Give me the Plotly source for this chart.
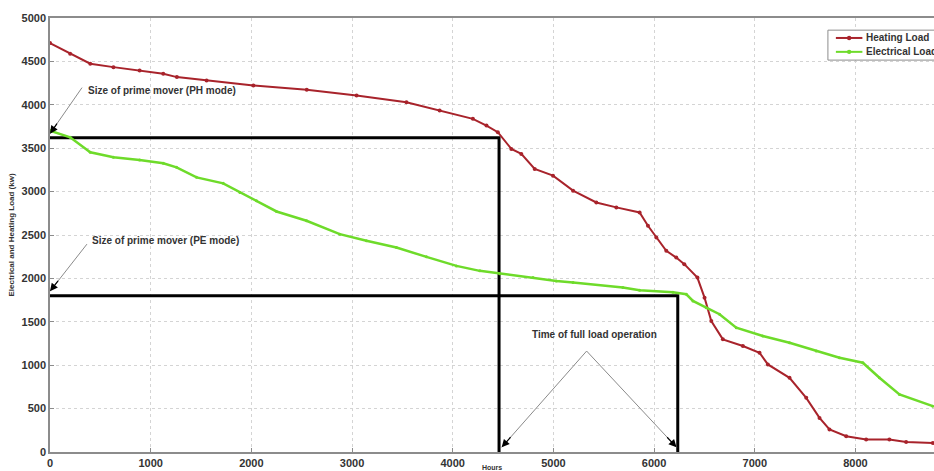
import plotly.graph_objects as go

# ---- data ----
hours_heat = [0, 200, 400, 630, 890, 1125, 1260, 1555, 2020, 2550, 3045, 3540, 3870, 4200,
              4335, 4448, 4582, 4681, 4814, 4996, 5195, 5426, 5625, 5856, 5939, 6022, 6121,
              6220, 6300, 6430, 6501, 6568, 6683, 6882, 7047, 7130, 7345, 7511, 7643, 7742,
              7908, 8106, 8337, 8503, 8768]
heating_load = [4711, 4589, 4473, 4434, 4396, 4358, 4319, 4281, 4223, 4173, 4108, 4030, 3934,
                3838, 3761, 3684, 3492, 3434, 3261, 3184, 3011, 2875, 2818, 2760, 2606, 2471,
                2318, 2240, 2164, 2009, 1778, 1509, 1298, 1221, 1143, 1009, 855, 624, 393, 259,
                181, 143, 143, 116, 104]

hours_elec = [0, 200, 400, 630, 890, 1125, 1257, 1456, 1720, 1886, 2051, 2250, 2548, 2878,
              3143, 3441, 3739, 4037, 4268, 4467, 4797, 5029, 5195, 5690, 5856, 6187, 6320,
              6386, 6518, 6650, 6816, 7080, 7345, 7610, 7841, 8073, 8238, 8437, 8768]
electrical_load = [3703, 3626, 3453, 3395, 3365, 3326, 3280, 3164, 3095, 2991, 2895, 2771,
                   2664, 2510, 2433, 2356, 2248, 2144, 2087, 2055, 2009, 1971, 1952, 1894,
                   1864, 1840, 1817, 1740, 1663, 1587, 1432, 1336, 1259, 1163, 1085, 1028,
                   855, 663, 528]

series_names = ["Heating Load", "Electrical Load"]

ph_size = 3620        # size of prime mover, PH mode (kW)
pe_size = 1800        # size of prime mover, PE mode (kW)
ph_full_hours = 4460  # hours of full-load operation, PH mode
pe_full_hours = 6235  # hours of full-load operation, PE mode

x_ticks = [0, 1000, 2000, 3000, 4000, 5000, 6000, 7000, 8000]
y_ticks = [0, 500, 1000, 1500, 2000, 2500, 3000, 3500, 4000, 4500, 5000]

# annotation anchor points (data coords)
ph_label = (357, 4165)
ph_arrow_tail = (318, 4198)
ph_arrow_head = (0, 3667)
pe_label = (397, 2433)
pe_arrow_tail = (367, 2395)
pe_arrow_head = (0, 1852)
full_label = (5410, 1359)
full_apex = (5330, 1163)
full_heads = [(4486, 54), (6223, 54)]

RED = "#A8232B"
GREEN = "#6EDB2A"
FONT = "Liberation Sans, Arial, sans-serif"

fig = go.Figure()

# black guide lines
fig.add_trace(go.Scatter(x=[0, ph_full_hours, ph_full_hours], y=[ph_size, ph_size, 0],
                         mode="lines", line=dict(color="black", width=3),
                         showlegend=False, hoverinfo="skip"))
fig.add_trace(go.Scatter(x=[0, pe_full_hours, pe_full_hours], y=[pe_size, pe_size, 0],
                         mode="lines", line=dict(color="black", width=3),
                         showlegend=False, hoverinfo="skip"))

fig.add_trace(go.Scatter(x=hours_heat, y=heating_load, name=series_names[0],
                         mode="lines+markers", line=dict(color=RED, width=2),
                         marker=dict(color=RED, size=4), showlegend=False))
fig.add_trace(go.Scatter(x=hours_elec, y=electrical_load, name=series_names[1],
                         mode="lines+markers", line=dict(color=GREEN, width=2.5),
                         marker=dict(color=GREEN, size=3), showlegend=False))

# gray pointer lines
pointer_pairs = [(ph_arrow_tail, ph_arrow_head), (pe_arrow_tail, pe_arrow_head),
                 (full_apex, full_heads[0]), (full_apex, full_heads[1])]
for tail, head in pointer_pairs:
    fig.add_trace(go.Scatter(x=[tail[0], head[0]], y=[tail[1], head[1]], mode="lines",
                             line=dict(color="#8a8a8a", width=1), showlegend=False,
                             hoverinfo="skip"))

annotations = []
for tail, head in pointer_pairs:
    dx = tail[0] - head[0]
    dy = tail[1] - head[1]
    f = 0.12 if head in full_heads else 0.25
    annotations.append(dict(x=head[0], y=head[1], xref="x", yref="y",
                            ax=head[0] + dx * f, ay=head[1] + dy * f, axref="x", ayref="y",
                            showarrow=True, arrowhead=2, arrowsize=1.3, arrowwidth=1.2,
                            arrowcolor="black", text=""))

txt_font = dict(family=FONT, size=10, color="#333333", weight="bold")
annotations.append(dict(x=ph_label[0], y=ph_label[1], xref="x", yref="y",
                        text="Size of prime mover (PH mode)", showarrow=False,
                        xanchor="left", yanchor="middle", font=txt_font))
annotations.append(dict(x=pe_label[0], y=pe_label[1], xref="x", yref="y",
                        text="Size of prime mover (PE mode)", showarrow=False,
                        xanchor="left", yanchor="middle", font=txt_font))
annotations.append(dict(x=full_label[0], y=full_label[1], xref="x", yref="y",
                        text="Time of full load operation", showarrow=False,
                        xanchor="center", yanchor="middle", font=txt_font))

# compact MATLAB-style legend box (runs off the right edge like the reference)
shapes = [dict(type="rect", xref="paper", yref="paper", x0=0.880, x1=1.05, y0=0.903, y1=0.972,
               line=dict(color="#8c8c8c", width=1), fillcolor="white", layer="above")]
legend_rows = [(0.954, RED, 4), (0.922, GREEN, 3)]
for (yy, col, ms), name in zip(legend_rows, series_names):
    shapes.append(dict(type="line", xref="paper", yref="paper", x0=0.889, x1=0.919,
                       y0=yy, y1=yy, line=dict(color=col, width=2), layer="above"))
    shapes.append(dict(type="circle", xref="paper", yref="paper",
                       x0=0.904 - 0.0025, x1=0.904 + 0.0025, y0=yy - 0.005, y1=yy + 0.005,
                       fillcolor=col, line=dict(color=col, width=0), layer="above"))
    annotations.append(dict(x=0.921, y=yy, xref="paper", yref="paper", text=name,
                            showarrow=False, xanchor="left", yanchor="middle",
                            font=dict(family=FONT, size=10, color="#333", weight="bold")))

axis_common = dict(showline=True, linecolor="#8c8c8c", linewidth=1.5, mirror=True,
                   ticks="inside", ticklen=4, tickcolor="#8c8c8c",
                   showgrid=True, gridcolor="#d4d4d4", griddash="dot", gridwidth=1,
                   zeroline=False,
                   tickfont=dict(family=FONT, size=11, color="#333333", weight="bold"))

fig.update_layout(
    width=934, height=471,
    margin=dict(l=50, r=0, t=18, b=19, autoexpand=False),
    paper_bgcolor="white", plot_bgcolor="white",
    font=dict(family=FONT),
    xaxis=dict(range=[0, 8780], tickvals=x_ticks, automargin=False,
               title=dict(text="Hours", font=dict(family=FONT, size=7, color="#333", weight="bold"),
                          standoff=2),
               **axis_common),
    yaxis=dict(range=[0, 5000], tickvals=y_ticks, automargin=False,
               title=dict(text="Electrical and Heating Load (kw)",
                          font=dict(family=FONT, size=8, color="#333", weight="bold"),
                          standoff=6),
               **axis_common),
    annotations=annotations,
    shapes=shapes,
    showlegend=False,
)

fig.write_html("out.html", config={"displayModeBar": False},
               post_script="document.body.style.margin='0';")
